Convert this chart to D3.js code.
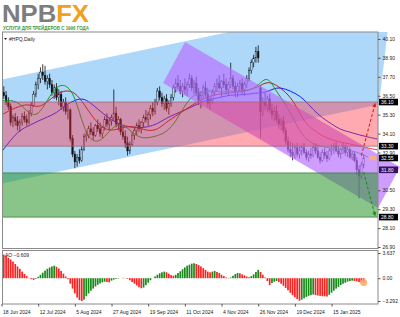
<!DOCTYPE html>
<html>
<head>
<meta charset="utf-8">
<script src="https://cdn.jsdelivr.net/npm/d3@7"></script>
<style>
  body { margin: 0; background: #fff; }
  svg { display: block; font-family: "Liberation Sans", Arial, sans-serif; }
</style>
</head>
<body>
<script>
// ---- data ----
const symbolLabel = '#HPQ,Daily';
const tickLabels = ['18 Jun 2024', '12 Jul 2024', '5 Aug 2024', '27 Aug 2024', '19 Sep 2024',
  '11 Oct 2024', '4 Nov 2024', '26 Nov 2024', '19 Dec 2024', '15 Jan 2025'];
const barsPerTick = 16;
const priceTicks = [40.10, 38.90, 37.70, 36.50, 35.30, 34.10, 32.90, 31.70, 30.50, 29.30, 28.10, 26.90];
const aoTicks = [3.637, 0, -3.292];

// o, h, l, c per daily bar
const bars = [
  [36.2,36.9,36.0,36.7],[36.7,37.1,36.3,36.5],[36.5,36.8,35.9,36.1],[36.1,36.4,35.6,35.8],
  [35.8,36.0,34.6,34.8],[34.8,35.3,34.5,35.1],[35.1,35.4,34.6,34.9],[34.9,35.2,34.3,34.6],
  [34.6,35.0,34.2,34.8],[34.8,35.4,34.6,35.2],[35.2,35.5,34.8,35.0],[35.0,35.3,34.6,34.8],
  [34.8,35.6,34.7,35.4],[35.4,36.1,35.2,35.9],[35.9,36.8,35.8,36.6],[36.6,37.4,36.4,37.2],
  [37.2,37.9,36.9,37.6],[37.6,38.3,37.3,38.0],[38.0,38.5,37.5,37.8],[37.8,38.4,37.2,37.4],
  [37.4,37.8,36.9,37.6],[37.6,37.9,37.0,37.2],[37.2,37.5,36.5,36.7],[36.7,37.2,36.3,37.0],
  [37.0,37.3,36.2,36.4],[36.4,36.9,35.9,36.6],[36.6,36.8,35.6,35.8],[35.8,36.3,35.5,36.1],
  [36.1,36.4,35.3,35.5],[35.5,35.9,35.0,35.6],[35.6,35.7,33.6,33.8],[33.8,34.0,32.6,32.8],
  [32.8,33.0,31.9,32.3],[32.3,32.8,32.0,32.6],[32.6,33.1,32.2,32.4],[32.4,33.3,32.3,33.1],
  [33.1,34.1,33.0,33.9],[33.9,34.3,33.6,34.0],[34.0,34.6,33.8,34.4],[34.4,34.8,34.0,34.2],
  [34.2,34.5,33.7,34.0],[34.0,34.7,33.9,34.6],[34.6,35.0,34.2,34.4],[34.4,34.8,33.9,34.1],
  [34.1,34.6,33.8,34.5],[34.5,35.2,34.3,35.0],[35.0,35.4,34.5,34.7],[34.7,35.1,34.3,34.9],
  [34.9,35.3,34.6,35.1],[35.1,36.9,34.9,35.4],[35.4,35.8,34.5,34.7],[34.7,35.2,34.3,35.0],
  [35.0,35.1,34.0,34.2],[34.2,34.6,33.7,33.9],[33.9,34.3,33.2,33.5],[33.5,33.9,32.7,33.0],
  [33.0,33.6,32.8,33.4],[33.4,34.2,33.3,34.0],[34.0,34.5,33.7,34.3],[34.3,34.8,34.0,34.6],
  [34.6,35.0,34.2,34.4],[34.4,34.9,34.1,34.8],[34.8,35.3,34.5,35.1],[35.1,35.6,34.8,35.0],
  [35.0,35.5,34.6,35.3],[35.3,35.9,35.0,35.7],[35.7,36.1,35.2,35.5],[35.5,36.3,35.3,36.1],
  [36.1,37.0,35.9,36.8],[36.8,37.1,36.2,36.4],[36.4,36.7,35.8,36.0],[36.0,36.5,35.6,36.3],
  [36.3,36.6,35.5,35.7],[35.7,36.2,35.3,36.0],[36.0,36.6,35.8,36.4],[36.4,37.2,36.2,37.0],
  [37.0,37.6,36.7,37.3],[37.3,37.8,36.9,37.1],[37.1,37.5,36.6,36.8],[36.8,37.3,36.4,37.1],
  [37.1,37.6,36.6,36.9],[36.9,37.4,36.5,37.2],[37.2,37.9,37.0,37.6],[37.6,37.8,36.8,37.0],
  [37.0,37.5,36.6,37.3],[37.3,37.7,36.5,36.7],[36.7,37.0,35.9,36.2],[36.2,36.8,35.7,36.5],
  [36.5,37.2,36.3,37.0],[37.0,37.4,36.4,36.6],[36.6,37.0,35.8,36.0],[36.0,36.4,35.6,36.2],
  [36.2,36.9,36.0,36.7],[36.7,37.3,36.5,37.1],[37.1,37.6,36.8,37.3],[37.3,37.8,36.9,37.0],
  [37.0,37.5,36.4,37.4],[37.4,37.9,37.0,37.2],[37.2,37.6,36.6,36.9],[36.9,37.4,36.5,37.2],
  [37.2,38.6,37.0,37.6],[37.6,37.8,36.9,37.1],[37.1,37.4,36.4,36.8],[36.8,37.3,36.4,37.1],
  [37.1,37.5,36.7,37.3],[37.3,37.6,36.6,36.9],[36.9,37.4,36.5,37.2],[37.2,37.8,37.0,37.6],
  [37.6,38.3,37.4,38.1],[38.1,38.8,37.9,38.6],[38.6,39.1,38.3,38.9],[38.9,39.6,38.6,39.3],
  [39.3,39.7,38.6,38.9],[37.0,37.1,33.8,35.5],[35.5,36.4,35.2,36.1],[36.1,36.7,35.6,35.9],
  [35.9,36.5,35.5,36.3],[36.3,36.6,35.4,35.6],[35.6,36.0,35.0,35.3],[35.3,35.8,34.9,35.5],
  [35.5,35.9,34.8,35.0],[35.0,35.3,34.4,34.7],[34.7,35.1,34.3,34.9],[34.9,35.2,34.1,34.3],
  [34.3,34.5,33.4,33.6],[33.6,33.9,32.9,33.1],[33.1,33.6,32.6,32.9],[32.9,33.5,32.4,32.7],
  [32.7,33.4,32.5,33.2],[33.2,33.5,32.6,32.8],[32.8,33.3,32.5,33.0],[33.0,33.4,32.7,33.2],
  [33.2,33.5,32.8,32.9],[32.9,33.1,32.4,32.6],[32.6,33.0,32.3,32.8],[32.8,33.2,32.5,32.7],
  [32.7,33.4,32.6,33.2],[33.2,33.5,32.8,33.0],[33.0,33.3,32.5,32.6],[32.6,32.9,32.2,32.4],
  [32.4,33.1,32.3,32.9],[32.9,33.2,32.5,32.7],[32.7,33.0,32.3,32.5],[32.5,33.2,32.4,33.0],
  [33.0,33.4,32.7,33.1],[33.1,33.5,32.8,33.3],[33.3,33.6,32.9,33.0],[33.0,33.3,32.6,32.8],
  [32.8,33.2,32.5,33.1],[33.1,33.5,32.8,33.2],[33.2,33.4,32.7,32.9],[32.9,33.3,32.6,33.1],
  [33.1,33.2,32.5,32.6],[32.6,33.0,32.4,32.8],[32.8,33.0,32.3,32.4],[32.4,32.6,31.5,31.8],
  [31.8,32.1,30.0,31.4],[31.4,32.3,31.2,32.1],[32.1,32.8,31.9,32.55]
];

// Alligator lines, one value every 4 bars (already shifted forward as drawn)
const lineStep = 4;
const lipsValues = [36.17,36.23,36.04,35.34,35.21,36.23,37.12,37.24,36.55,34.33,33.5,33.69,34.45,34.77,
  34.33,33.82,33.82,33.95,34.2,34.83,35.91,36.61,36.73,36.86,36.67,36.86,36.67,36.86,37.12,37.82,36.73,
  35.98,34.83,33.82,33.44,33.25,33.18,33.12,33.06,32.87,32.6];
const teethValues = [35.28,35.6,35.85,35.98,35.72,36.1,36.61,36.86,36.74,35.98,35.09,34.45,34.26,34.45,
  34.58,34.45,34.26,34.33,34.83,35.21,35.6,35.98,36.29,36.55,36.61,36.67,36.8,36.86,37.05,37.43,37.18,
  36.74,36.04,34.83,34.33,33.95,33.69,33.56,33.44,33.31,33.18,33.06];
const jawValues = [32.93,33.69,34.33,34.6,34.9,35.15,35.4,35.91,36.23,36.36,35.91,35.4,34.96,34.64,34.52,
  34.45,34.52,34.71,35.09,35.34,35.6,35.85,36.17,36.29,36.42,36.55,36.55,36.61,36.67,36.74,37.05,36.93,
  36.67,36.29,35.6,35.09,34.71,34.33,34.2,34.01,33.88,33.75];

// Awesome Oscillator, one value per bar
const aoValues = [
  3.637,3.4,3.2,2.95,2.7,2.4,2.05,1.7,1.35,0.95,0.6,0.3,
  0.05,-0.15,-0.25,-0.1,0.2,0.5,0.8,1.1,1.35,1.55,1.7,1.8,
  1.65,1.4,1.05,0.65,0.25,-0.15,-0.8,-1.5,-2.2,-2.8,-3.15,-3.292,
  -3.1,-2.6,-2.2,-1.8,-1.5,-1.2,-0.95,-0.75,-0.6,-0.5,-0.55,-0.6,
  -0.35,-0.2,-0.1,-0.05,0.0,0.05,0.02,-0.1,-0.3,-0.55,-0.8,-1.05,
  -1.3,-1.45,-1.35,-1.0,-0.65,-0.3,0.0,0.25,0.5,0.7,0.85,0.95,
  0.85,0.65,0.45,0.35,0.5,0.75,1.0,1.3,1.55,1.8,1.95,2.1,
  2.15,2.05,1.9,1.7,1.45,1.2,0.95,0.85,0.95,1.05,0.9,0.75,
  0.5,0.3,0.1,-0.05,0.1,0.35,0.6,0.75,0.7,0.55,0.4,0.25,
  0.15,0.3,0.55,0.9,1.2,0.9,0.5,0.1,-0.4,-1.0,-0.7,-0.5,
  -0.4,-0.55,-0.8,-1.1,-1.4,-1.75,-2.1,-2.45,-2.75,-3.0,-3.25,-3.1,
  -2.9,-2.7,-2.55,-2.45,-2.35,-2.45,-2.5,-2.55,-2.6,-2.62,-2.65,-2.4,
  -2.1,-1.8,-1.5,-1.25,-1.0,-0.8,-0.65,-0.5,-0.4,-0.35,-0.4,-0.45,
  -0.55,-0.6,-0.609
];

// analyst drawings: zones (price) and channels / arrows as [bar, price]
const resistanceZone = [36.10, 33.30];
const supportZone = [31.60, 28.80];
const lastPrice = 32.55;
const channelMark = 31.80;
const risingChannel = [[-4, 37.40], [170.2, 42.70], [164.7, 35.95], [-4, 30.80]];
const fallingChannel = [[80.1, 39.91], [173.9, 31.98], [164.3, 29.38], [70.5, 37.31]];
const upArrow = [[157, 32.7], [163, 36.0]];
const downArrow = [[158, 31.66], [163, 28.9]];

// ---- layout ----
const W = 400, H = 317;
const plot = { left: 2.5, right: 378, top: 32, bottom: 248.5 };
const sub = { top: 250.5, bottom: 304 };

const svg = d3.select('body').append('svg')
  .attr('width', W).attr('height', H);

const x = d3.scaleLinear().domain([0, 160]).range([1.5, 1.5 + 160 * 2.292]);
const y = d3.scaleLinear().domain([26.807, 40.544]).range([plot.bottom, plot.top]);
const yAo = d3.scaleLinear().domain([-3.725, 3.998]).range([sub.bottom, sub.top]);

const defs = svg.append('defs');
defs.append('clipPath').attr('id', 'wideClip').append('rect')
  .attr('x', plot.left).attr('y', plot.top)
  .attr('width', W - plot.left).attr('height', plot.bottom - plot.top);
defs.append('clipPath').attr('id', 'subClip').append('rect')
  .attr('x', plot.left).attr('y', sub.top)
  .attr('width', plot.right - plot.left).attr('height', sub.bottom - sub.top);
['#e02020', '#1f8f1f'].forEach((c, k) => {
  defs.append('marker').attr('id', 'ah' + k)
    .attr('viewBox', '0 0 10 10').attr('refX', 8).attr('refY', 5)
    .attr('markerWidth', 4).attr('markerHeight', 4).attr('orient', 'auto')
    .append('path').attr('d', 'M0,0 L10,5 L0,10 z').attr('fill', c);
});

// ---- logo ----
const logo = svg.append('text').attr('x', 2).attr('y', 21.5)
  .attr('textLength', 87).attr('lengthAdjust', 'spacingAndGlyphs')
  .style('font-size', '23px').style('font-weight', 'bold');
logo.append('tspan').attr('fill', '#7d7d7d').text('NPB');
logo.append('tspan').attr('fill', '#f0a020').text('FX');
svg.append('text').attr('x', 3).attr('y', 30)
  .attr('textLength', 86).attr('lengthAdjust', 'spacingAndGlyphs')
  .style('font-size', '5px').style('font-weight', 'bold').attr('fill', '#3b9a3b')
  .text('УСЛУГИ ДЛЯ ТРЕЙДЕРОВ С 1996 ГОДА');

// one clipped group: candles and lines first, translucent drawings on top
const chartG = svg.append('g').attr('clip-path', 'url(#wideClip)');
chartG.append('rect').attr('x', plot.left).attr('y', plot.top)
  .attr('width', W - plot.left).attr('height', plot.bottom - plot.top).attr('fill', '#fff');

// ---- candles ----
const candle = chartG.selectAll('g.bar').data(bars).enter().append('g').attr('class', 'bar');
candle.append('line')
  .attr('x1', (d, i) => x(i)).attr('x2', (d, i) => x(i))
  .attr('y1', d => y(d[1])).attr('y2', d => y(d[2]))
  .attr('stroke', '#111').attr('stroke-width', 0.8);
candle.append('rect')
  .attr('x', (d, i) => x(i) - 0.8).attr('width', 1.6)
  .attr('y', d => y(Math.max(d[0], d[3])))
  .attr('height', d => Math.max(0.6, Math.abs(y(d[0]) - y(d[3]))))
  .attr('fill', d => d[3] >= d[0] ? '#fff' : '#111')
  .attr('stroke', '#111').attr('stroke-width', 0.4);

// ---- alligator lines ----
const lineGen = d3.line().x(d => x(d[0])).y(d => y(d[1])).curve(d3.curveBasis);
[[jawValues, '#2020ff'], [teethValues, '#ff2020'], [lipsValues, '#20b020']].forEach(([vals, c]) => {
  chartG.append('path')
    .datum(vals.map((v, k) => [k * lineStep, v]))
    .attr('d', lineGen).attr('fill', 'none')
    .attr('stroke', c).attr('stroke-width', 1);
});

// ---- channels and zones ----
const polyPts = pts => pts.map(p => [x(p[0]), y(p[1])].join(',')).join(' ');
chartG.append('polygon').attr('points', polyPts(risingChannel))
  .attr('fill', '#aed8fa').style('mix-blend-mode', 'multiply');
chartG.append('polygon').attr('points', polyPts(fallingChannel))
  .attr('fill', 'rgb(183,110,255)').attr('fill-opacity', 0.68);
[[resistanceZone, 'rgb(255,50,70)', 0.42], [supportZone, 'rgb(40,150,40)', 0.55]].forEach(([z, fill, op]) => {
  chartG.append('rect')
    .attr('x', plot.left).attr('width', plot.right - plot.left)
    .attr('y', y(z[0])).attr('height', y(z[1]) - y(z[0]))
    .attr('fill', fill).attr('fill-opacity', op);
});
[[resistanceZone, '#9a6a7a'], [supportZone, '#3f7f3f']].forEach(([z, edge]) => {
  z.forEach(v => chartG.append('line')
    .attr('x1', plot.left).attr('x2', plot.right)
    .attr('y1', y(v)).attr('y2', y(v))
    .attr('stroke', edge).attr('stroke-width', 0.8));
});

// arrows
[[upArrow, '#e02020', 0], [downArrow, '#1f8f1f', 1]].forEach(([a, c, k]) => {
  svg.append('line')
    .attr('x1', x(a[0][0])).attr('y1', y(a[0][1]))
    .attr('x2', x(a[1][0])).attr('y2', y(a[1][1]))
    .attr('stroke', c).attr('stroke-width', 1.1).attr('stroke-dasharray', '3,2')
    .attr('marker-end', 'url(#ah' + k + ')');
});
svg.append('ellipse')
  .attr('cx', x(bars.length + 3)).attr('cy', y(lastPrice))
  .attr('rx', 4).attr('ry', 2.5).attr('fill', '#ffb070').attr('opacity', 0.85);

// ---- AO histogram ----
const aoG = svg.append('g').attr('clip-path', 'url(#subClip)');
aoG.selectAll('rect').data(aoValues).enter().append('rect')
  .attr('x', (d, i) => x(i) - 0.85).attr('width', 1.7)
  .attr('y', d => yAo(Math.max(0, d)))
  .attr('height', d => Math.abs(yAo(d) - yAo(0)))
  .attr('fill', (d, i) => (i === 0 || d > aoValues[i - 1]) ? '#1a8a1a' : '#ff2020');
svg.append('circle')
  .attr('cx', x(aoValues.length - 1)).attr('cy', yAo(aoValues[aoValues.length - 1]))
  .attr('r', 3.5).attr('fill', '#ffa860').attr('opacity', 0.85);

// ---- frames ----
const frame = svg.append('g').attr('fill', 'none').attr('stroke', '#8a8a8a').attr('stroke-width', 1);
frame.append('rect').attr('x', plot.left).attr('y', plot.top)
  .attr('width', plot.right - plot.left).attr('height', plot.bottom - plot.top);
frame.append('rect').attr('x', plot.left).attr('y', sub.top)
  .attr('width', plot.right - plot.left).attr('height', sub.bottom - sub.top);

// ---- axes ----
const fontPx = '5px';
const marks = [[resistanceZone[0], '#000'], [resistanceZone[1], '#000'], [lastPrice, '#000'],
  [channelMark, '#3a1060'], [supportZone[1], '#000']];
const shownTicks = priceTicks.filter(t => marks.every(m => Math.abs(y(t) - y(m[0])) > 4.5));
const priceAxis = svg.append('g').attr('transform', `translate(${plot.right},0)`)
  .call(d3.axisRight(y).tickValues(shownTicks).tickSize(2.5).tickPadding(2)
    .tickFormat(d3.format('.2f')));
const aoAxis = svg.append('g').attr('transform', `translate(${plot.right},0)`)
  .call(d3.axisRight(yAo).tickValues(aoTicks).tickSize(2.5).tickPadding(2)
    .tickFormat(d => d === 0 ? '0.00' : d3.format('.3f')(d)));
const dateAxis = svg.append('g').attr('transform', `translate(0,${sub.bottom})`)
  .call(d3.axisBottom(x).tickValues(tickLabels.map((t, k) => k * barsPerTick))
    .tickSize(2.5).tickFormat((d, k) => tickLabels[k]));
[priceAxis, aoAxis, dateAxis].forEach(g => {
  g.select('.domain').remove();
  g.selectAll('line').attr('stroke', '#555');
  g.selectAll('text').style('font-size', fontPx).attr('fill', '#222');
});
dateAxis.selectAll('text').attr('text-anchor', 'start').attr('dx', 1).attr('dy', '0.9em');

// marked prices on the scale
marks.forEach(([v, bg]) => {
  svg.append('rect').attr('x', plot.right + 1).attr('y', y(v) - 3.3)
    .attr('width', 19).attr('height', 6.6).attr('fill', bg);
  svg.append('text').attr('x', plot.right + 3).attr('y', y(v) + 1.8)
    .style('font-size', fontPx).attr('fill', '#fff').text(d3.format('.2f')(v));
});

// titles
svg.append('path').attr('d', `M4,38 L7,38 L5.5,40 Z`).attr('fill', '#222');
svg.append('text').attr('x', 9).attr('y', 40.5).style('font-size', fontPx).attr('fill', '#222')
  .text(symbolLabel);
svg.append('text').attr('x', 5).attr('y', 257).style('font-size', fontPx).attr('fill', '#222')
  .text('AO ' + d3.format('.3f')(aoValues[aoValues.length - 1]));
</script>
</body>
</html>
